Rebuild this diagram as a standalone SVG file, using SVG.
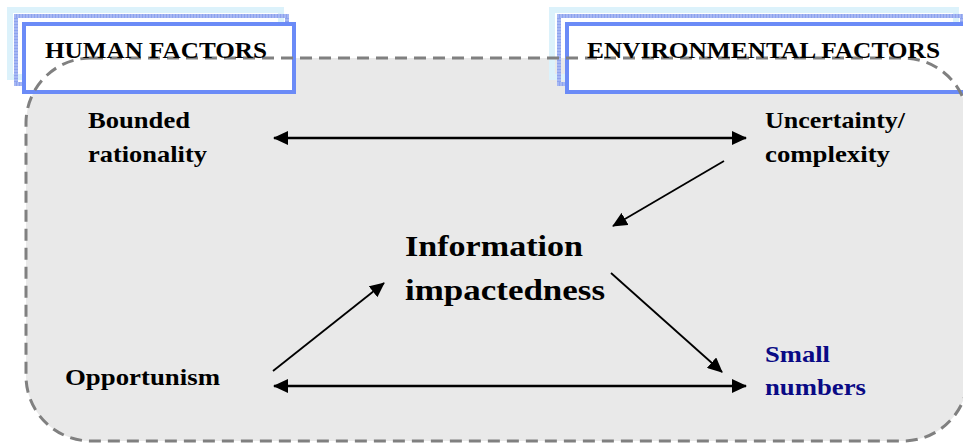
<svg xmlns="http://www.w3.org/2000/svg" width="963" height="447" viewBox="0 0 963 447">
  <style>
    .lbl { font-family: 'Liberation Serif', 'DejaVu Serif', serif; font-weight: bold; fill: #000; }
    .head { font-size: 24px; }
    .node { font-size: 23px; }
    .big { font-size: 30px; }
    .blue { fill: #0a0a85; }
    .f1 { fill: none; stroke: #dcf2fb; stroke-width: 6; }
    .f2 { fill: none; stroke: #a6b7f3; stroke-width: 4; }
    .f2d { fill: none; stroke: #8ea3ee; stroke-width: 4; stroke-dasharray: 1 2; }
    .f3 { fill: #ffffff; stroke: #6b8bf7; stroke-width: 4; }
    .conn { stroke: #000; fill: none; }
  </style>
  <defs>
    <marker id="ah" viewBox="0 0 15 14" refX="14" refY="7" markerWidth="15" markerHeight="14" markerUnits="userSpaceOnUse" orient="auto-start-reverse">
      <path d="M0,0 L15,7 L0,14 z" fill="#000"/>
    </marker>
  </defs>
  <rect width="963" height="447" fill="#ffffff"/>

  <rect id="region-fill" x="26" y="58" width="942" height="383" rx="65" ry="65" fill="#e9e9e9"/>

  <g id="human-factors-frame">
    <rect class="f1" x="10" y="10" width="271" height="67"/>
    <rect class="f2" x="16" y="16" width="271" height="68"/>
    <rect class="f2d" x="16" y="16" width="271" height="68"/>
    <rect class="f3" x="24" y="24" width="270" height="68"/>
  </g>
  <g id="environmental-factors-frame">
    <rect class="f1" x="552" y="10" width="404" height="67"/>
    <rect class="f2" x="559" y="16" width="403" height="68"/>
    <rect class="f2d" x="559" y="16" width="403" height="68"/>
    <rect class="f3" x="567" y="24" width="410" height="68"/>
  </g>

  <rect id="region-border" x="26" y="58" width="942" height="383" rx="65" ry="65" fill="none" stroke="#808080" stroke-width="3" stroke-dasharray="12 7"/>

  <g id="human-factors"><text class="lbl head" font-family="Liberation Serif, serif" x="45" y="58" textLength="222" lengthAdjust="spacingAndGlyphs">HUMAN FACTORS</text></g>
  <g id="environmental-factors"><text class="lbl head" font-family="Liberation Serif, serif" x="587" y="58" textLength="353" lengthAdjust="spacingAndGlyphs">ENVIRONMENTAL FACTORS</text></g>

  <g id="bounded-rationality">
    <text class="lbl node" x="88" y="128" textLength="102" lengthAdjust="spacingAndGlyphs">Bounded</text>
    <text class="lbl node" x="88" y="162" textLength="119" lengthAdjust="spacingAndGlyphs">rationality</text>
  </g>
  <g id="uncertainty-complexity">
    <text class="lbl node" x="765" y="128" textLength="140" lengthAdjust="spacingAndGlyphs">Uncertainty/</text>
    <text class="lbl node" x="765" y="162" textLength="125" lengthAdjust="spacingAndGlyphs">complexity</text>
  </g>
  <g id="information-impactedness">
    <text class="lbl big" x="405" y="256" textLength="178" lengthAdjust="spacingAndGlyphs">Information</text>
    <text class="lbl big" x="405" y="300" textLength="200" lengthAdjust="spacingAndGlyphs">impactedness</text>
  </g>
  <g id="opportunism">
    <text class="lbl node" x="65" y="385" textLength="155" lengthAdjust="spacingAndGlyphs">Opportunism</text>
  </g>
  <g id="small-numbers">
    <text class="lbl node blue" x="765" y="362" textLength="65" lengthAdjust="spacingAndGlyphs">Small</text>
    <text class="lbl node blue" x="765" y="395" textLength="101" lengthAdjust="spacingAndGlyphs">numbers</text>
  </g>

  <g id="connectors" class="conn">
    <line x1="274" y1="138" x2="746" y2="138" stroke-width="2.6" marker-start="url(#ah)" marker-end="url(#ah)"/>
    <line x1="274" y1="386" x2="746" y2="386" stroke-width="2.6" marker-start="url(#ah)" marker-end="url(#ah)"/>
    <line x1="724" y1="161" x2="613" y2="226" stroke-width="1.8" marker-end="url(#ah)"/>
    <line x1="611" y1="273" x2="722" y2="372" stroke-width="1.8" marker-end="url(#ah)"/>
    <line x1="273" y1="371" x2="384" y2="283" stroke-width="1.8" marker-end="url(#ah)"/>
  </g>
</svg>
